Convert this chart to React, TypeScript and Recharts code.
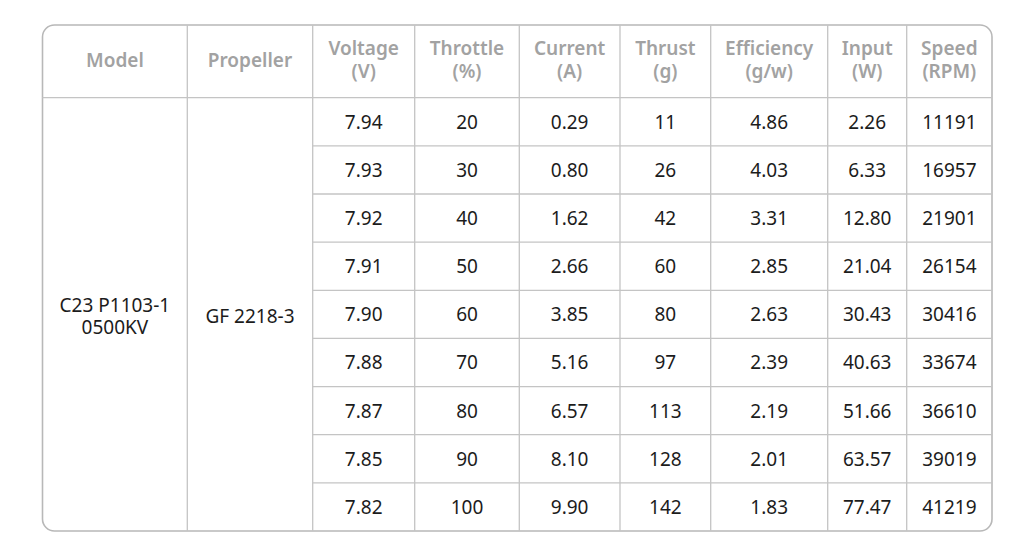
import React from "react";
import {
  ScatterChart,
  Scatter,
  XAxis,
  YAxis,
  ReferenceLine,
  ReferenceArea,
} from "recharts";

// ---- data ----
const headers: string[][] = [
  ["Model"],
  ["Propeller"],
  ["Voltage", "(V)"],
  ["Throttle", "(%)"],
  ["Current", "(A)"],
  ["Thrust", "(g)"],
  ["Efficiency", "(g/w)"],
  ["Input", "(W)"],
  ["Speed", "(RPM)"],
];
const modelName: string[] = ["C23 P1103-1", "0500KV"];
const propellerName: string[] = ["GF 2218-3"];
const voltage: number[] = [7.94, 7.93, 7.92, 7.91, 7.9, 7.88, 7.87, 7.85, 7.82];
const throttle: number[] = [20, 30, 40, 50, 60, 70, 80, 90, 100];
const current: number[] = [0.29, 0.8, 1.62, 2.66, 3.85, 5.16, 6.57, 8.1, 9.9];
const thrust: number[] = [11, 26, 42, 60, 80, 97, 113, 128, 142];
const efficiency: number[] = [4.86, 4.03, 3.31, 2.85, 2.63, 2.39, 2.19, 2.01, 1.83];
const inputPower: number[] = [2.26, 6.33, 12.8, 21.04, 30.43, 40.63, 51.66, 63.57, 77.47];
const speed: number[] = [11191, 16957, 21901, 26154, 30416, 33674, 36610, 39019, 41219];

// ---- layout (not data) ----
const W = 1024;
const H = 551;
const LEFT = 42.5;
const RIGHT = 992;
const TOP = 25;
const BOTTOM = 531;
const HEADER_BOTTOM = 97.7;
const colEdges = [LEFT, 187.3, 312.7, 414.7, 519.3, 620, 710.7, 827.7, 906.7, RIGHT];
const rowH = (BOTTOM - HEADER_BOTTOM) / 9;
const colCenter = (c: number) => (colEdges[c] + colEdges[c + 1]) / 2;
const rowCenter = (i: number) => HEADER_BOTTOM + rowH * (i + 0.5);

const FONT = "'Noto Sans', 'DejaVu Sans', sans-serif";
const LINE = "#c4c4c4";
const HEAD_COLOR = "#a2a2a2";
const BODY_COLOR = "#1c1c1c";

type Cell = { x: number; y: number; lines: string[] };

const numericCols: { values: number[]; fmt: (v: number) => string }[] = [
  { values: voltage, fmt: (v) => v.toFixed(2) },
  { values: throttle, fmt: (v) => String(v) },
  { values: current, fmt: (v) => v.toFixed(2) },
  { values: thrust, fmt: (v) => String(v) },
  { values: efficiency, fmt: (v) => v.toFixed(2) },
  { values: inputPower, fmt: (v) => v.toFixed(2) },
  { values: speed, fmt: (v) => String(v) },
];

const headerCells: Cell[] = headers.map((h, c) => ({
  x: colCenter(c),
  y: (TOP + HEADER_BOTTOM) / 2 - 1.6,
  lines: h,
}));

const bodyCells: Cell[][] = numericCols.map((col, k) =>
  col.values.map((v, i) => ({ x: colCenter(k + 2), y: rowCenter(i), lines: [col.fmt(v)] }))
);

const spanCells: Cell[] = [
  { x: colCenter(0), y: (HEADER_BOTTOM + BOTTOM) / 2 + 1.5, lines: modelName },
  { x: colCenter(1), y: (HEADER_BOTTOM + BOTTOM) / 2 + 1.5, lines: propellerName },
];

const makeShape = (color: string, weight: number, size: number, gap: number) => (props: any) => {
  const { cx, cy, payload } = props;
  const lines: string[] = payload.lines;
  const start = cy - ((lines.length - 1) * gap) / 2;
  return (
    <text
      textAnchor="middle"
      fontFamily={FONT}
      fontSize={size}
      fontWeight={weight}
      fill={color}
    >
      {lines.map((l, j) => (
        <tspan key={j} x={cx} y={start + j * gap} dominantBaseline="central">
          {l}
        </tspan>
      ))}
    </text>
  );
};

const headShape = makeShape(HEAD_COLOR, 600, 19, 23);
const bodyShape = makeShape(BODY_COLOR, 400, 19, 22);

export default function App() {
  return (
    <div style={{ position: "absolute", left: 0, top: 0, width: W, height: H, background: "#fff" }}>
      <ScatterChart
        width={W}
        height={H}
        margin={{ left: LEFT, top: TOP, right: W - RIGHT, bottom: H - BOTTOM }}
      >
        <XAxis type="number" dataKey="x" domain={[LEFT, RIGHT]} hide allowDataOverflow />
        <YAxis type="number" dataKey="y" domain={[TOP, BOTTOM]} reversed hide allowDataOverflow />
        {colEdges.slice(1, -1).map((x, i) => (
          <ReferenceLine
            key={"v" + i}
            segment={[
              { x, y: TOP },
              { x, y: BOTTOM },
            ]}
            stroke={LINE}
            strokeWidth={1.3}
            ifOverflow="visible"
          />
        ))}
        <ReferenceLine
          segment={[
            { x: LEFT, y: HEADER_BOTTOM },
            { x: RIGHT, y: HEADER_BOTTOM },
          ]}
          stroke={LINE}
          strokeWidth={1.3}
          ifOverflow="visible"
        />
        {voltage.slice(1).map((_, i) => {
          const y = HEADER_BOTTOM + rowH * (i + 1);
          return (
            <ReferenceLine
              key={"h" + i}
              segment={[
                { x: colEdges[2], y },
                { x: RIGHT, y },
              ]}
              stroke={LINE}
              strokeWidth={1.3}
              ifOverflow="visible"
            />
          );
        })}
        <ReferenceArea
          x1={LEFT}
          x2={RIGHT}
          y1={TOP}
          y2={BOTTOM}
          ifOverflow="visible"
          shape={(p: any) => (
            <rect
              x={p.x}
              y={p.y}
              width={p.width}
              height={p.height}
              rx={12}
              ry={12}
              fill="none"
              stroke="#b8b8b8"
              strokeWidth={1.6}
            />
          )}
        />
        <Scatter data={headerCells} shape={headShape} isAnimationActive={false} />
        <Scatter data={spanCells} shape={bodyShape} isAnimationActive={false} />
        {bodyCells.map((cells, k) => (
          <Scatter key={k} data={cells} shape={bodyShape} isAnimationActive={false} />
        ))}
      </ScatterChart>
    </div>
  );
}
